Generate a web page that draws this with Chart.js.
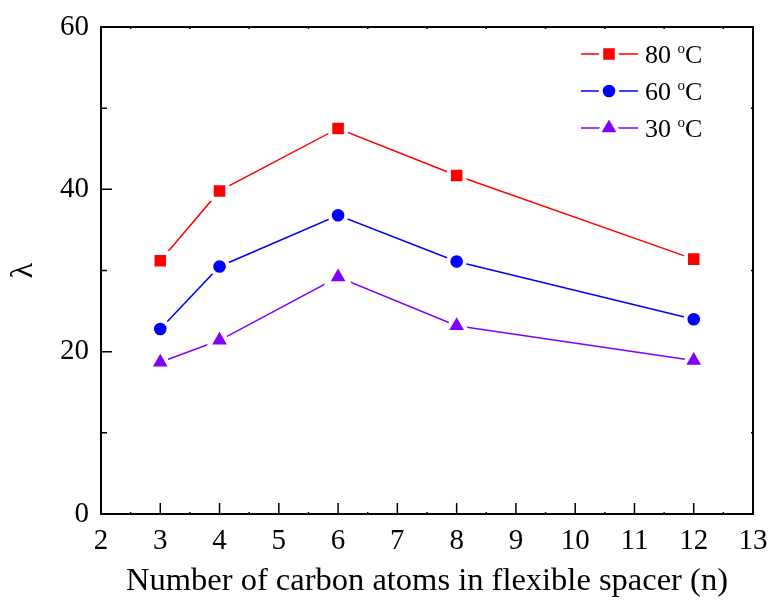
<!DOCTYPE html>
<html>
<head>
<meta charset="utf-8">
<script src="https://cdn.jsdelivr.net/npm/chart.js@4/dist/chart.umd.min.js"></script>
<style>
  html, body { margin: 0; padding: 0; background: #fff; }
  #wrap { width: 772px; height: 605px; position: relative; }
</style>
</head>
<body>
<div id="wrap"><canvas id="c"></canvas></div>
<script>
// data
const spacerN = [3, 4, 6, 8, 12];
const lambda80 = [31.2, 39.8, 47.5, 41.7, 31.4];
const lambda60 = [22.8, 30.5, 36.8, 31.1, 24.0];
const lambda30 = [18.7, 21.4, 29.2, 23.2, 18.9];
const seriesNames = ['80', '60', '30'];
const xTicks = [2, 3, 4, 5, 6, 7, 8, 9, 10, 11, 12, 13];
const yTicks = [0, 20, 40, 60];

const FONT = '"Liberation Serif", "Times New Roman", serif';
const colors = ['#ff0000', '#0000ff', '#8000ff'];
const styles = ['rect', 'circle', 'triangle'];
const radii = [11, 8.3, 12.5];

function toPoints(ys) {
    return spacerN.map((x, i) => ({ x: x, y: ys[i] }));
}

const datasets = [lambda80, lambda60, lambda30].map((ys, i) => ({
    label: seriesNames[i],
    data: toPoints(ys),
    borderColor: colors[i],
    backgroundColor: colors[i],
    borderWidth: 1.5,
    pointStyle: styles[i],
    pointRadius: radii[i],
    pointBackgroundColor: colors[i],
    pointBorderColor: '#ffffff',
    pointBorderWidth: 4,
    tension: 0
}));

// draws the frame, inward ticks and the line+marker legend
const framePlugin = {
    id: 'frame',
    afterDraw(chart) {
        const ctx = chart.ctx;
        const a = chart.chartArea;
        const xs = chart.scales.x, ys = chart.scales.y;
        ctx.save();
        ctx.strokeStyle = '#000';
        ctx.lineWidth = 2;
        ctx.strokeRect(a.left, a.top, a.right - a.left, a.bottom - a.top);

        ctx.lineWidth = 1.5;
        ctx.beginPath();
        xTicks.forEach(v => {
            const px = xs.getPixelForValue(v);
            ctx.moveTo(px, a.bottom); ctx.lineTo(px, a.bottom - 11);
            const mx = xs.getPixelForValue(v + 0.5);
            if (v < 13) { ctx.moveTo(mx, a.bottom); ctx.lineTo(mx, a.bottom - 2); ctx.moveTo(mx, a.top); ctx.lineTo(mx, a.top + 2); }
        });
        yTicks.forEach(v => {
            const py = ys.getPixelForValue(v);
            ctx.moveTo(a.left, py); ctx.lineTo(a.left + 11, py);
            if (v < 60) {
                const my = ys.getPixelForValue(v + 10);
                ctx.moveTo(a.left, my); ctx.lineTo(a.left + 6, my);
                ctx.moveTo(a.right, my); ctx.lineTo(a.right - 2, my);
            }
        });
        ctx.stroke();

        // legend
        const lx0 = 581, lx1 = 638, mx = 609, tx = 645;
        const rows = [54, 91, 128];
        chart.data.datasets.forEach((ds, i) => {
            const y = rows[i];
            ctx.strokeStyle = ds.borderColor;
            ctx.lineWidth = 1.5;
            ctx.beginPath();
            ctx.moveTo(lx0, y); ctx.lineTo(lx1, y);
            ctx.stroke();
            ctx.fillStyle = ds.borderColor;
            ctx.strokeStyle = '#ffffff';
            ctx.lineWidth = 4;
            Chart.helpers.drawPoint(ctx, { pointStyle: ds.pointStyle, radius: ds.pointRadius, borderWidth: 4, rotation: 0 }, mx, y);

            ctx.fillStyle = '#000';
            ctx.textBaseline = 'alphabetic';
            ctx.textAlign = 'left';
            ctx.font = '26px ' + FONT;
            const base = y + 9;
            const t1 = ds.label + ' ';
            ctx.fillText(t1, tx, base);
            let w = ctx.measureText(t1).width;
            ctx.font = '15px ' + FONT;
            ctx.fillText('o', tx + w, base - 10);
            w += ctx.measureText('o').width;
            ctx.font = '26px ' + FONT;
            ctx.fillText('C', tx + w, base);
        });
        ctx.restore();
    }
};

new Chart(document.getElementById('c'), {
    type: 'line',
    data: { datasets: datasets },
    options: {
        responsive: true,
        maintainAspectRatio: false,
        animation: false,
        layout: { padding: { top: 27, right: 19, left: 0, bottom: 0 } },
        plugins: { legend: { display: false }, tooltip: { enabled: false } },
        scales: {
            x: {
                type: 'linear',
                min: 2, max: 13,
                grid: { display: false, drawTicks: false },
                border: { display: false },
                afterBuildTicks(s) { s.ticks = xTicks.map(v => ({ value: v })); },
                afterFit(s) { s.height = 91; s.paddingLeft = 0; s.paddingRight = 0; },
                ticks: { color: '#000', font: { family: FONT, size: 29 }, padding: 10, maxRotation: 0 },
                title: { display: true, text: 'Number of carbon atoms in flexible spacer (n)', color: '#000',
                         font: { family: FONT, size: 32.5 }, padding: { top: 0 } }
            },
            y: {
                min: 0, max: 60,
                grid: { display: false, drawTicks: false },
                border: { display: false },
                afterBuildTicks(s) { s.ticks = yTicks.map(v => ({ value: v })); },
                afterFit(s) { s.width = 101; s.paddingTop = 0; s.paddingBottom = 0; },
                ticks: { color: '#000', font: { family: FONT, size: 29 }, padding: 12 },
                title: { display: true, text: 'λ', color: '#000', font: { family: FONT, size: 32 }, padding: { bottom: 30 } }
            }
        }
    },
    plugins: [framePlugin]
});
</script>
</body>
</html>
